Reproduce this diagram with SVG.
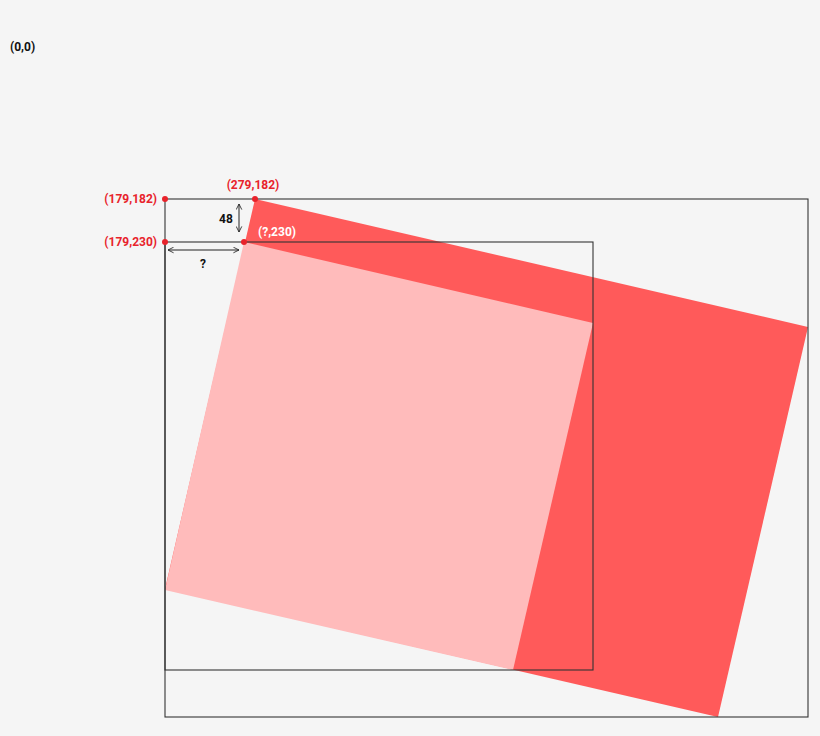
<svg xmlns="http://www.w3.org/2000/svg" width="820" height="736" viewBox="0 0 820 736">
<style>
.lbl{font-family:Roboto,"Liberation Sans",sans-serif;font-weight:bold;font-size:12px}
.red{fill:#e8232b}
.blk{fill:#111}
.wht{fill:#ffffff}
.frame{fill:none;stroke:#333;stroke-width:1.1}
.dim{fill:none;stroke:#222;stroke-width:1}
.dot{fill:#e8232b}
</style>
<defs>
<marker id="ah" viewBox="0 0 10 10" refX="9" refY="5" markerWidth="7" markerHeight="7" orient="auto-start-reverse" markerUnits="userSpaceOnUse">
<path d="M1,1 L9,5 L1,9" fill="none" stroke="#222" stroke-width="1.2"/>
</marker>
</defs>
<rect x="0" y="0" width="820" height="736" fill="#f5f5f5"/>
<g id="origin"><text class="lbl blk" x="10" y="51">(0,0)</text></g>
<g id="red-rect"><polygon points="255,199 808,327 718,717 165,589" fill="#ff5a5a"/></g>
<g id="pink-square"><polygon points="244,242 593,323 513,670 165,590" fill="#ffbbbb"/></g>
<g id="outer-frame"><rect class="frame" x="165" y="199" width="643" height="518"/></g>
<g id="inner-frame"><rect class="frame" x="165" y="242" width="428" height="428"/></g>
<g id="connectors">
<line class="dim" x1="239" y1="204" x2="239" y2="232" marker-start="url(#ah)" marker-end="url(#ah)"/>
<line class="dim" x1="168" y1="250" x2="239" y2="250" marker-start="url(#ah)" marker-end="url(#ah)"/>
</g>
<g id="points">
<circle class="dot" cx="165" cy="199" r="3"/>
<circle class="dot" cx="255" cy="199" r="3"/>
<circle class="dot" cx="165" cy="242" r="3"/>
<circle class="dot" cx="244" cy="242" r="3"/>
</g>
<g id="labels">
<text class="lbl red" x="157" y="203" text-anchor="end">(179,182)</text>
<text class="lbl red" x="157" y="246" text-anchor="end">(179,230)</text>
<text class="lbl red" x="253" y="189" text-anchor="middle">(279,182)</text>
<text class="lbl wht" x="258" y="236">(?,230)</text>
<text class="lbl blk" x="226" y="223" text-anchor="middle">48</text>
<text class="lbl blk" x="203" y="268" text-anchor="middle">?</text>
</g>
</svg>
